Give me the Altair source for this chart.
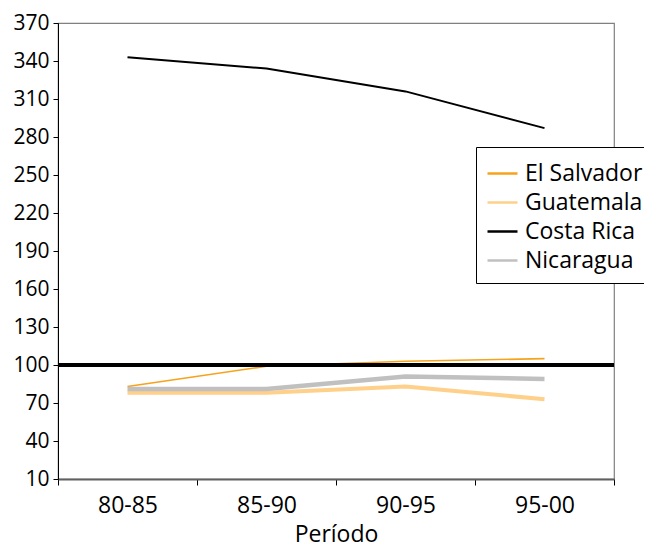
import altair as alt
import pandas as pd

periods = ["80-85", "85-90", "90-95", "95-00"]
countries = ["El Salvador", "Guatemala", "Costa Rica", "Nicaragua"]
el_salvador = [83, 99, 103, 105]
guatemala = [78, 78, 83, 73]
costa_rica = [343, 334, 316, 287]
nicaragua = [81, 81, 91, 89]
reference_value = 100
y_ticks = list(range(10, 371, 30))

colors = ["#F7A21B", "#FFD08A", "#000000", "#C0C0C0"]
widths = {"El Salvador": 1.6, "Guatemala": 4, "Costa Rica": 2, "Nicaragua": 4.5}

series = {"El Salvador": el_salvador, "Guatemala": guatemala,
          "Costa Rica": costa_rica, "Nicaragua": nicaragua}
rows = []
for c in countries:
    for p, v in zip(periods, series[c]):
        rows.append({"Período": p, "País": c, "valor": v, "w": widths[c]})
df = pd.DataFrame(rows)

font = "Open Sans"
fs = 23

x = alt.X("Período:N", sort=periods,
          scale=alt.Scale(paddingInner=0, paddingOuter=0),
          axis=alt.Axis(title="Período", labelAngle=0, tickBand="extent",
                        labelFontSize=fs, titleFontSize=fs, titleFontWeight="normal",
                        labelColor="black", titleColor="black",
                        domainColor="#606060", domainWidth=2,
                        tickColor="black", tickSize=6, labelPadding=9,
                        titlePadding=6, grid=False))
y_axis = alt.Axis(title=None, values=y_ticks, labelFontSize=21,
                  labelOverlap=False,
                  labelColor="black", domainColor="black",
                  tickColor="black", tickSize=5, labelPadding=4,
                  grid=False)
y_scale = alt.Scale(domain=[10, 370], nice=False, zero=False)

lines = alt.Chart(df).mark_line().encode(
    x=x,
    y=alt.Y("valor:Q", scale=y_scale, axis=y_axis),
    color=alt.Color("País:N", sort=countries,
                    scale=alt.Scale(domain=countries, range=colors),
                    legend=alt.Legend(title=None, orient="none",
                                      legendX=418, legendY=124,
                                      symbolType="stroke", symbolSize=900,
                                      symbolStrokeWidth=2.5,
                                      labelFontSize=fs, labelColor="black",
                                      labelOffset=6, rowPadding=0,
                                      padding=10, strokeColor="black",
                                      fillColor="white")),
    strokeWidth=alt.StrokeWidth("w:Q", scale=None, legend=None),
    order=alt.Order("Período:N"),
)

rule = alt.Chart(df).mark_rule(color="black", strokeWidth=3.5).encode(
    y=alt.datum(reference_value, type="quantitative", scale=y_scale, axis=y_axis)
)

chart = alt.layer(lines, rule).properties(
    width=556, height=456,
    padding={"left": 50, "top": 15, "right": 30, "bottom": 70},
    autosize="none",
).configure(font=font).configure_view(
    stroke="#808080", strokeWidth=1.2
).configure_axisY(labelOverlap=False)

chart.save("out.html", embed_options={"renderer": "svg", "actions": False})
